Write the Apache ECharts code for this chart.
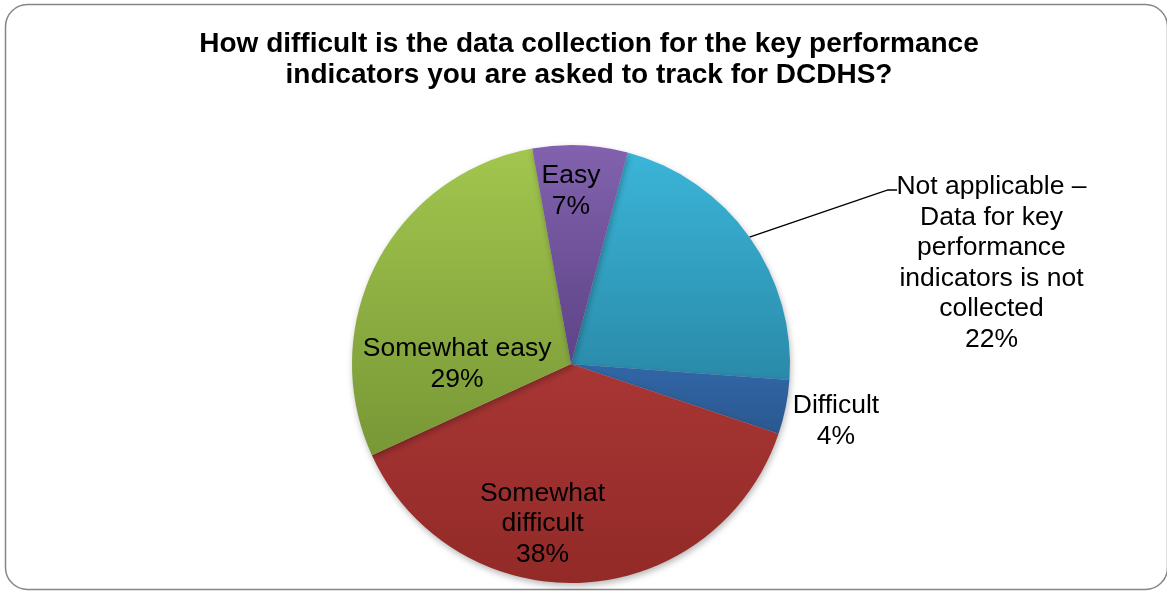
<!DOCTYPE html>
<html>
<head>
<meta charset="utf-8">
<title>KPI data collection difficulty</title>
<script src="https://cdn.jsdelivr.net/npm/echarts@6/dist/echarts.min.js"></script>
<style>
  html, body { margin: 0; padding: 0; background: #ffffff; }
  #chart { width: 1167px; height: 591px; }
</style>
</head>
<body>
<div id="chart"></div>
<script>
// Survey responses, clockwise from just right of twelve o'clock
const categories = [
  'Not applicable –\nData for key\nperformance\nindicators is not\ncollected',
  'Difficult',
  'Somewhat\ndifficult',
  'Somewhat easy',
  'Easy'
];
const percentages = [22, 4, 38, 29, 7];

// Slice colours: lighter at the top of each slice, darker at the bottom
const topColors = ['#3bb5d8', '#3166a6', '#a83634', '#a2c64e', '#8262ae'];
const bottomColors = ['#2a8aa9', '#2b5890', '#922a28', '#789736', '#5d4386'];

// Pie geometry (pixels)
const pieCenter = [571, 364];
const pieRadius = 219;

// Label anchors, in pie radii from the centre
const labelAnchors = [
  [1.92, -0.46],
  [1.21, 0.26],
  [-0.13, 0.73],
  [-0.52, 0.0],
  [0.0, -0.79]
];
// Elbow and end of the leader line for the outside label (pie radii)
const leaderElbow = [1.447, -0.795];
const leaderEnd = [1.489, -0.795];

const chart = echarts.init(document.getElementById('chart'), null, { renderer: 'canvas' });

const seriesData = categories.map((name, i) => ({
  name: name,
  value: percentages[i],
  itemStyle: {
    color: new echarts.graphic.LinearGradient(0, 0, 0, 1, [
      { offset: 0, color: topColors[i] },
      { offset: 1, color: bottomColors[i] }
    ])
  }
}));

// Start angle so that the first slice begins 15 degrees clockwise of twelve o'clock
const startAngle = 75;

chart.setOption({
  animation: false,
  backgroundColor: '#ffffff',
  title: {
    text: 'How difficult is the data collection for the key performance\nindicators you are asked to track for DCDHS?',
    left: 584,
    top: 24,
    textAlign: 'center',
    textStyle: {
      fontFamily: 'Liberation Sans, Arial, sans-serif',
      fontSize: 28,
      fontWeight: 'bold',
      color: '#000000',
      lineHeight: 31
    }
  },
  graphic: [{
    type: 'rect',
    shape: { x: 5.5, y: 4.5, width: 1162, height: 585, r: 22 },
    style: { fill: 'none', stroke: '#868686', lineWidth: 1.5 },
    z: -10
  }],
  series: [{
    type: 'pie',
    center: pieCenter,
    radius: pieRadius,
    startAngle: startAngle,
    clockwise: true,
    avoidLabelOverlap: false,
    data: seriesData,
    itemStyle: {
      borderWidth: 0,
      shadowBlur: 6,
      shadowColor: 'rgba(0,0,0,0.28)',
      shadowOffsetX: 1,
      shadowOffsetY: 3
    },
    label: {
      show: true,
      position: 'outside',
      formatter: p => p.name + '\n' + p.value + '%',
      fontFamily: 'Liberation Sans, Arial, sans-serif',
      fontSize: 26.5,
      lineHeight: 30.5,
      color: '#000000',
      align: 'center'
    },
    labelLine: {
      show: true,
      lineStyle: { color: '#000000', width: 1.5 }
    },
    labelLayout: function (params) {
      const i = params.dataIndex;
      const a = labelAnchors[i];
      const out = {
        x: pieCenter[0] + a[0] * pieRadius,
        y: pieCenter[1] + a[1] * pieRadius,
        align: 'center',
        verticalAlign: 'middle'
      };
      if (i === 0) {
        // leader line from the slice's mid-angle on the rim to the label
        let before = 0;
        for (let k = 0; k < i; k++) before += percentages[k];
        const total = percentages.reduce((s, v) => s + v, 0);
        const midDeg = (90 - startAngle) + (before + percentages[i] / 2) / total * 360;
        const rad = midDeg * Math.PI / 180;
        out.labelLinePoints = [
          [pieCenter[0] + Math.sin(rad) * pieRadius, pieCenter[1] - Math.cos(rad) * pieRadius],
          [pieCenter[0] + leaderElbow[0] * pieRadius, pieCenter[1] + leaderElbow[1] * pieRadius],
          [pieCenter[0] + leaderEnd[0] * pieRadius, pieCenter[1] + leaderEnd[1] * pieRadius]
        ];
      } else {
        out.labelLinePoints = [[0, 0], [0, 0], [0, 0]];
      }
      return out;
    }
  }]
});
</script>
</body>
</html>
